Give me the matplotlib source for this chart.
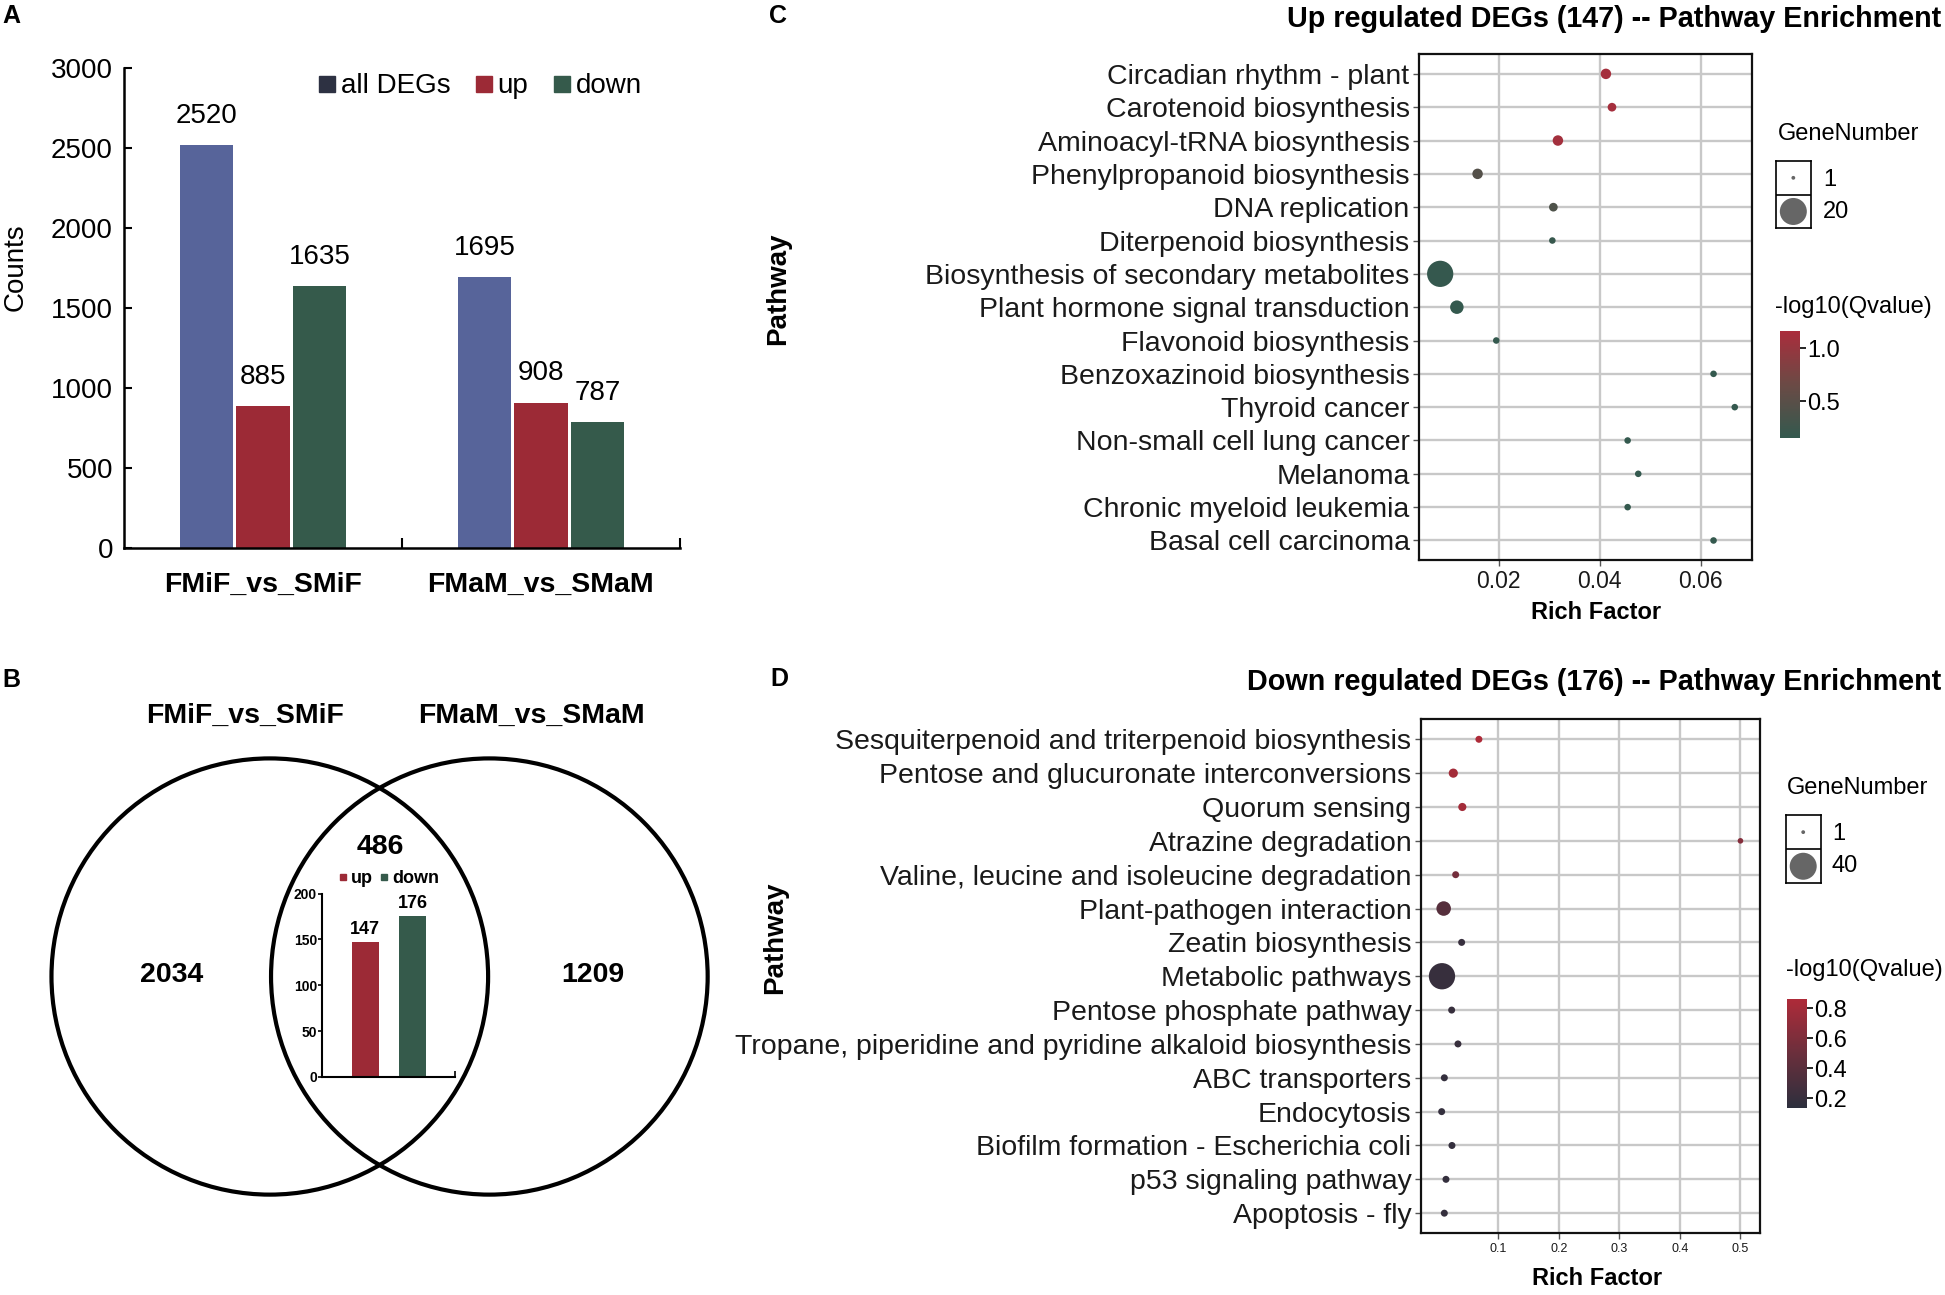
import numpy as np
import matplotlib
matplotlib.use("Agg")
import matplotlib.pyplot as plt
from matplotlib.patches import Circle
from matplotlib.lines import Line2D
from matplotlib.colors import LinearSegmentedColormap, Normalize

plt.rcParams['font.family'] = ['Liberation Sans', 'DejaVu Sans']

# ---------------- data ----------------
# A: DEG counts
groups = ['FMiF_vs_SMiF', 'FMaM_vs_SMaM']
all_degs = [2520, 1695]
up_degs = [885, 908]
down_degs = [1635, 787]

# B: venn + shared up/down
venn_names = ['FMiF_vs_SMiF', 'FMaM_vs_SMaM']
only_left, shared, only_right = 2034, 486, 1209
shared_labels = ['up', 'down']
shared_counts = [147, 176]

# C: up regulated pathway enrichment
up_paths = ['Circadian rhythm - plant', 'Carotenoid biosynthesis',
            'Aminoacyl-tRNA biosynthesis', 'Phenylpropanoid biosynthesis',
            'DNA replication', 'Diterpenoid biosynthesis',
            'Biosynthesis of secondary metabolites',
            'Plant hormone signal transduction', 'Flavonoid biosynthesis',
            'Benzoxazinoid biosynthesis', 'Thyroid cancer',
            'Non-small cell lung cancer', 'Melanoma',
            'Chronic myeloid leukemia', 'Basal cell carcinoma']
up_rich = [0.0412, 0.0424, 0.0317, 0.0158, 0.0308, 0.0306, 0.0084, 0.0117,
           0.0195, 0.0625, 0.0667, 0.0455, 0.0476, 0.0455, 0.0625]
up_genes = [4, 3, 4, 4, 3, 2, 19, 6, 2, 2, 2, 2, 2, 2, 2]
up_q = [1.12, 1.12, 1.10, 0.45, 0.40, 0.20, 0.18, 0.17, 0.17,
        0.17, 0.17, 0.17, 0.17, 0.17, 0.17]

# D: down regulated pathway enrichment
down_paths = ['Sesquiterpenoid and triterpenoid biosynthesis',
              'Pentose and glucuronate interconversions', 'Quorum sensing',
              'Atrazine degradation',
              'Valine, leucine and isoleucine degradation',
              'Plant-pathogen interaction', 'Zeatin biosynthesis',
              'Metabolic pathways', 'Pentose phosphate pathway',
              'Tropane, piperidine and pyridine alkaloid biosynthesis',
              'ABC transporters', 'Endocytosis',
              'Biofilm formation - Escherichia coli',
              'p53 signaling pathway', 'Apoptosis - fly']
down_rich = [0.068, 0.0257, 0.0406, 0.5, 0.0296, 0.0098, 0.0395, 0.007,
             0.023, 0.0334, 0.0109, 0.0065, 0.0235, 0.0136, 0.0109]
down_genes = [3, 5, 4, 2, 3, 12, 3, 38, 3, 3, 3, 3, 3, 3, 3]
down_q = [0.86, 0.80, 0.80, 0.64, 0.55, 0.38, 0.20, 0.20, 0.20,
          0.20, 0.18, 0.18, 0.18, 0.18, 0.18]

blue = '#57649a'
red = '#9c2a36'
green = '#355a4b'

fig = plt.figure(figsize=(19.45, 12.95), dpi=100)

# ---------------- panel A ----------------
axA = fig.add_axes([0.0638, 0.577, 0.2857, 0.3703])
x = np.arange(len(groups))
off, w = 0.203, 0.192
for dx, vals, col in [(-off, all_degs, blue), (0, up_degs, red), (off, down_degs, green)]:
    axA.bar(x + dx, vals, w, color=col)
    for xi, v in zip(x + dx, vals):
        axA.annotate(str(v), (xi, v), xytext=(0, 21), textcoords='offset points',
                     ha='center', va='center', fontsize=20)
axA.set_xlim(-0.5, 1.5)
axA.set_ylim(0, 3000)
axA.set_yticks(np.arange(0, 3001, 500))
axA.set_xticks(x)
axA.set_xticklabels(groups, fontsize=20.5, fontweight='bold')
axA.set_xticks([0.5, 1.5], minor=True)
axA.tick_params(axis='x', which='major', length=0, pad=17)
axA.tick_params(axis='x', which='minor', direction='in', length=7, width=1.5)
axA.tick_params(axis='y', direction='in', length=6, width=1.5, labelsize=20, pad=8)
for s in ['top', 'right']:
    axA.spines[s].set_visible(False)
for s in ['left', 'bottom']:
    axA.spines[s].set_linewidth(1.8)
fig.text(0.008, 0.794, 'Counts', rotation=90, fontsize=20, ha='center', va='center')
handles = [Line2D([], [], marker='s', ls='', color=c, markersize=11)
           for c in ['#2d3142', red, green]]
axA.legend(handles, ['all DEGs', 'up', 'down'], ncol=3, loc='center left',
           bbox_to_anchor=(0.33, 0.962), frameon=False, fontsize=20,
           handlelength=0.6, handletextpad=0.2, columnspacing=0.9, borderaxespad=0)

# ---------------- panel B ----------------
axB = fig.add_axes([0, 0, 0.4, 0.5])
W, H = 1568, 1045
axB.set_xlim(0, 0.4 * W)
axB.set_ylim(H, H - 0.5 * H)
axB.axis('off')
for cx in [217.5, 394.5]:
    axB.add_patch(Circle((cx, 788), 176, fill=False, lw=3, ec='black'))
axB.text(197.5, 577.7, venn_names[0], fontsize=20.5, fontweight='bold', ha='center', va='center')
axB.text(428.2, 577.7, venn_names[1], fontsize=20.5, fontweight='bold', ha='center', va='center')
axB.text(138, 787, str(only_left), fontsize=20.5, fontweight='bold', ha='center', va='center')
axB.text(478.3, 787, str(only_right), fontsize=20.5, fontweight='bold', ha='center', va='center')
axB.text(306.5, 683.3, str(shared), fontsize=20.5, fontweight='bold', ha='center', va='center')

axI = fig.add_axes([0.1658, 0.1684, 0.0682, 0.1416])
xi = np.arange(len(shared_counts))
axI.bar(xi, shared_counts, 0.57, color=[red, green])
for a, v in zip(xi, shared_counts):
    axI.annotate(str(v), (a, v), xytext=(0, 9), textcoords='offset points',
                 ha='center', va='center', fontsize=13, fontweight='bold')
axI.set_xlim(-0.9, 1.9)
axI.set_ylim(0, 200)
axI.set_yticks(np.arange(0, 201, 50))
axI.set_xticks([])
axI.set_xticks([1.9], minor=True)
axI.tick_params(axis='x', which='minor', direction='in', length=4, width=1.2)
axI.tick_params(axis='y', length=3, width=1.2, labelsize=10, pad=1)
for lab in axI.get_yticklabels():
    lab.set_fontweight('bold')
for s in ['top', 'right']:
    axI.spines[s].set_visible(False)
for s in ['left', 'bottom']:
    axI.spines[s].set_linewidth(1.5)
ih = [Line2D([], [], marker='s', ls='', color=c, markersize=5) for c in [red, green]]
axI.legend(ih, shared_labels, ncol=2, loc='center', bbox_to_anchor=(0.5, 1.08),
           frameon=False, prop={'size': 13, 'weight': 'bold'}, handlelength=0.5,
           handletextpad=0.2, columnspacing=0.4, borderaxespad=0, borderpad=0)


# ---------------- panels C / D ----------------
def dot_size(n, big):
    # diameter in pixels, sqrt scaling between 1 and legend max
    d = 3.8 + (27.0 - 3.8) * (np.sqrt(n) - 1) / (np.sqrt(big) - 1)
    return (d * 0.72) ** 2


def enrich(rect, paths, rich, genes, q, cmap, vmin, vmax, xlim, xticks,
           xlabels, xfs, big, leg, cbar, cticks, clabels, txt):
    ax = fig.add_axes(rect)
    n = len(paths)
    y = np.arange(n)[::-1]
    ax.set_axisbelow(True)
    sc = ax.scatter(rich, y, s=[dot_size(g, big) for g in genes], c=q, cmap=cmap,
                    norm=Normalize(vmin, vmax), edgecolors='none', zorder=3)
    ax.set_ylim(-0.6, n - 0.4)
    ax.set_xlim(*xlim)
    ax.set_yticks(y)
    ax.set_yticklabels(paths, fontsize=20.5, color='#1a1a1a')
    ax.set_xticks(xticks)
    ax.set_xticklabels(xlabels, fontsize=xfs, color='#1a1a1a')
    ax.grid(True, color='#c8c8c8', lw=1.7)
    ax.tick_params(color='#555555', length=4, width=1, pad=3)
    for s in ax.spines.values():
        s.set_linewidth(1.6)
        s.set_color('#111111')

    cax = fig.add_axes(cbar)
    cb = fig.colorbar(sc, cax=cax)
    cb.set_ticks(cticks)
    cb.set_ticklabels(clabels)
    cb.outline.set_visible(False)
    cax.tick_params(labelsize=17, length=4, width=1.2, pad=1)

    axL = fig.add_axes(leg)
    axL.set_xlim(0, 1)
    axL.set_ylim(0, 2)
    axL.scatter([0.5, 0.5], [1.5, 0.5], s=[dot_size(1, big), dot_size(big, big)],
                color='#666666', edgecolors='none')
    axL.axhline(1, color='black', lw=1.2)
    axL.set_xticks([])
    axL.set_yticks([])
    for s in axL.spines.values():
        s.set_linewidth(1.2)

    for (tx, ty, s) in txt:
        fig.text(tx, ty, s, fontsize=17, ha='left', va='center')
    return ax


cmapC = LinearSegmentedColormap.from_list('upq', ['#33594e', '#6b4a45', '#aa2d3c'])
cmapD = LinearSegmentedColormap.from_list('downq', ['#2c2f3d', '#6a2f3c', '#ae2b39'])

enrich([0.7297, 0.5672, 0.1713, 0.3912], up_paths, up_rich, up_genes, up_q,
       cmapC, 0.16, 1.16, (0.00426, 0.0702), [0.02, 0.04, 0.06],
       ['0.02', '0.04', '0.06'], 16.5, 20,
       [0.9131, 0.8237, 0.01784, 0.052], [0.9152, 0.662, 0.01028, 0.0824],
       [0.5, 1.0], ['0.5', '1.0'],
       [(0.9139, 0.8965, 'GeneNumber'), (0.9373, 0.861, '1'),
        (0.9373, 0.8365, '20'), (0.9126, 0.7632, '-log10(Qvalue)')])

enrich([0.7307, 0.0475, 0.1744, 0.3973], down_paths, down_rich, down_genes,
       down_q, cmapD, 0.133, 0.86, (-0.0273, 0.533),
       [0.1, 0.2, 0.3, 0.4, 0.5], ['0.1', '0.2', '0.3', '0.4', '0.5'], 9, 40,
       [0.9181, 0.3179, 0.018, 0.0527], [0.9186, 0.1442, 0.0106, 0.0842],
       [0.2, 0.4, 0.6, 0.8], ['0.2', '0.4', '0.6', '0.8'],
       [(0.9186, 0.3913, 'GeneNumber'), (0.9418, 0.356, '1'),
        (0.9418, 0.3313, '40'), (0.9183, 0.251, '-log10(Qvalue)')])

fig.text(0.998, 0.979, 'Up regulated DEGs (147) -- Pathway Enrichment',
         fontsize=20.7, fontweight='bold', ha='right', va='baseline')
fig.text(0.998, 0.4672, 'Down regulated DEGs (176) -- Pathway Enrichment',
         fontsize=20.7, fontweight='bold', ha='right', va='baseline')
fig.text(0.3999, 0.777, 'Pathway', rotation=90, fontsize=20, fontweight='bold',
         ha='center', va='center')
fig.text(0.3985, 0.2757, 'Pathway', rotation=90, fontsize=20, fontweight='bold',
         ha='center', va='center')
fig.text(0.8208, 0.5273, 'Rich Factor', fontsize=17, fontweight='bold',
         ha='center', va='center')
fig.text(0.8209, 0.0125, 'Rich Factor', fontsize=17, fontweight='bold',
         ha='center', va='center')

# panel letters
for px, py, s in [(0.001, 0.9876, 'A'), (0.001, 0.4749, 'B'),
                  (0.3954, 0.9873, 'C'), (0.3959, 0.4757, 'D')]:
    fig.text(px, py, s, fontsize=18, fontweight='bold', ha='left', va='center')

fig.savefig('out.png', dpi=100)
